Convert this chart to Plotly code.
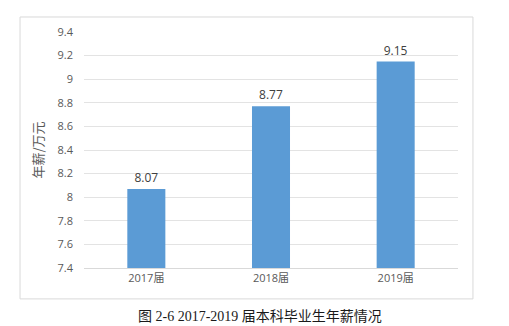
import plotly.graph_objects as go

categories = ["2017届", "2018届", "2019届"]
values = [8.07, 8.77, 9.15]
tick_vals = [7.4, 7.6, 7.8, 8.0, 8.2, 8.4, 8.6, 8.8, 9.0, 9.2, 9.4]
tick_text = ["7.4", "7.6", "7.8", "8", "8.2", "8.4", "8.6", "8.8", "9", "9.2", "9.4"]
value_labels = ["8.07", "8.77", "9.15"]

fig = go.Figure()
fig.add_trace(go.Bar(
    x=categories, y=values,
    marker=dict(color="#5B9BD5", line=dict(width=0)),
    text=value_labels, textposition="outside",
    textfont=dict(family="Open Sans, Noto Sans CJK SC", size=12, color="#404040"),
    cliponaxis=True,
))

fig.update_layout(
    width=509, height=326,
    margin=dict(l=84, r=51, t=32, b=58),
    paper_bgcolor="white", plot_bgcolor="white",
    bargap=0.695,
    showlegend=False,
    font=dict(family="Open Sans, Noto Sans CJK SC", size=11, color="#595959"),
    xaxis=dict(showgrid=False, showline=True, linecolor="#D9D9D9", linewidth=1,
               ticks="", tickfont=dict(size=11, color="#595959",
               family="Open Sans, Noto Sans CJK SC")),
    yaxis=dict(range=[7.4, 9.4], tickvals=tick_vals, ticktext=tick_text,
               showgrid=True, gridcolor="#E3E3E3", gridwidth=1, zeroline=False,
               showline=False, ticks="", ticklabelstandoff=10,
               tickfont=dict(size=11, color="#595959"),
               title=dict(text="年薪/万元", standoff=10,
                          font=dict(size=13, color="#595959",
                                    family="Noto Sans CJK SC"))),
    shapes=[dict(type="rect", xref="paper", yref="paper",
                 x0=-0.171, x1=1.040, y0=-0.131, y1=1.0636,
                 line=dict(color="#D9D9D9", width=1), fillcolor="rgba(0,0,0,0)",
                 layer="below")],
    annotations=[dict(text="图 2-6 2017-2019 届本科毕业生年薪情况",
                      xref="paper", yref="paper", x=(260 - 84) / 374, y=(268 - 316) / 236,
                      xanchor="center", yanchor="middle", showarrow=False,
                      font=dict(family="Liberation Serif, Noto Sans CJK SC", size=14,
                                color="#1a1a1a"))],
)

fig.write_html("out.html")
